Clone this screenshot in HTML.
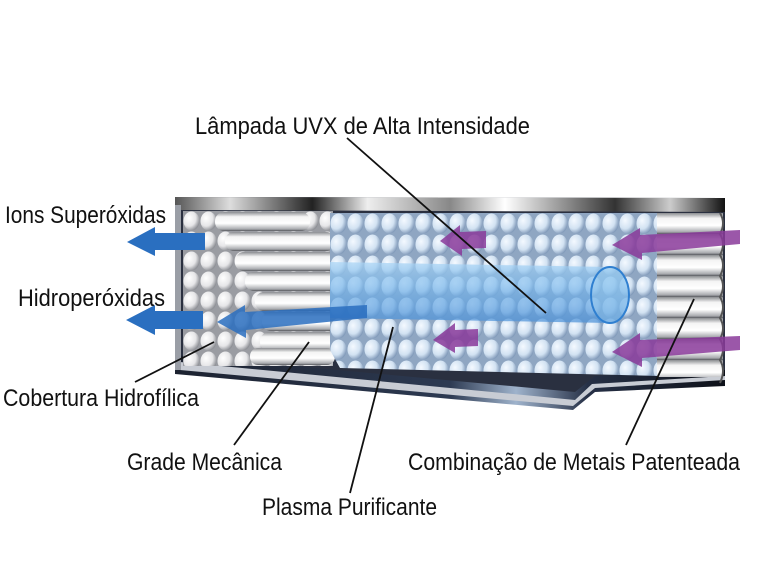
<!DOCTYPE html>
<html><head><meta charset="utf-8"><style>
html,body{margin:0;padding:0;background:#fff;}
svg{display:block;}
text{font-family:"Liberation Sans Narrow","Liberation Sans",sans-serif;fill:#111;font-size:24px;}
</style></head><body>
<svg width="768" height="571" viewBox="0 0 768 571" xmlns="http://www.w3.org/2000/svg">
<defs>
<radialGradient id="cg" cx="0.35" cy="0.35" r="0.7">
<stop offset="0" stop-color="#ffffff"/><stop offset="0.6" stop-color="#e6e6e8"/><stop offset="1" stop-color="#8a8c92"/></radialGradient>
<radialGradient id="bg" cx="0.35" cy="0.35" r="0.7">
<stop offset="0" stop-color="#f4f9ff"/><stop offset="0.6" stop-color="#d2e2f2"/><stop offset="1" stop-color="#7f98b8"/></radialGradient>
<pattern id="pl" x="183" y="211" width="17" height="20" patternUnits="userSpaceOnUse">
<rect width="17" height="20" fill="#9a9ca2"/><ellipse cx="8.5" cy="10" rx="8" ry="9.5" fill="url(#cg)"/></pattern>
<pattern id="pm" x="330" y="213" width="17" height="21" patternUnits="userSpaceOnUse">
<rect width="17" height="21" fill="#8fa6c2"/><ellipse cx="8.5" cy="10.5" rx="8" ry="10" fill="url(#bg)"/></pattern>
<linearGradient id="bar" x1="0" y1="0" x2="0" y2="1">
<stop offset="0" stop-color="#8a8c90"/><stop offset="0.25" stop-color="#f4f4f4"/><stop offset="0.6" stop-color="#ffffff"/><stop offset="0.9" stop-color="#a8aaae"/><stop offset="1" stop-color="#55575c"/></linearGradient>
<pattern id="pr" x="0" y="213" width="70" height="21" patternUnits="userSpaceOnUse">
<rect width="70" height="21" fill="url(#bar)"/></pattern>
<linearGradient id="top" x1="0" y1="0" x2="1" y2="0">
<stop offset="0" stop-color="#555"/><stop offset="0.1" stop-color="#ddd"/><stop offset="0.25" stop-color="#222"/><stop offset="0.35" stop-color="#eee"/><stop offset="0.5" stop-color="#888"/><stop offset="0.6" stop-color="#fff"/><stop offset="0.8" stop-color="#333"/><stop offset="0.9" stop-color="#ccc"/><stop offset="1" stop-color="#111"/></linearGradient>
<linearGradient id="bot" x1="0" y1="0" x2="1" y2="0">
<stop offset="0" stop-color="#1c2230"/><stop offset="0.5" stop-color="#2d3a52"/><stop offset="0.62" stop-color="#9fb3cc"/><stop offset="0.75" stop-color="#263046"/><stop offset="1" stop-color="#0e1119"/></linearGradient>
<linearGradient id="tube" x1="0" y1="0" x2="0" y2="1">
<stop offset="0" stop-color="#a8d4f5" stop-opacity="0.7"/><stop offset="0.4" stop-color="#7ab8ec" stop-opacity="0.65"/><stop offset="1" stop-color="#4a90d8" stop-opacity="0.7"/></linearGradient>
</defs>

<!-- housing -->
<polygon points="175,197 725,198 725,382 595,388 573,408 175,372" fill="#2a3040"/>
<polygon points="175,197 725,198 725,212 175,210" fill="url(#top)"/>
<polygon points="175,355 575,392 595,376 725,370 725,386 595,392 573,410 175,374" fill="url(#bot)"/>
<polygon points="180,362 575,400 592,384 725,376 725,380 595,388 573,406 180,370" fill="#c8ccd4"/>
<rect x="175" y="205" width="6" height="165" fill="#9a9ea6"/>

<!-- left block -->
<rect x="183" y="211" width="150" height="155" fill="url(#pl)"/>
<g fill="url(#bar)">
<rect x="215" y="212" width="95" height="19" rx="9"/>
<rect x="225" y="232" width="110" height="19" rx="9"/>
<rect x="235" y="252" width="105" height="19" rx="9"/>
<rect x="245" y="272" width="100" height="19" rx="9"/>
<rect x="255" y="292" width="95" height="19" rx="9"/>
<rect x="262" y="312" width="90" height="19" rx="9"/>
<rect x="260" y="332" width="95" height="19" rx="9"/>
<rect x="250" y="348" width="85" height="17" rx="8"/>
</g>

<!-- middle block -->
<polygon points="330,213 659,213 659,376 340,368 330,350" fill="url(#pm)"/>

<!-- tube -->
<path d="M330,262 L610,267 A19,28 0 0 1 610,323 L330,318 Z" fill="url(#tube)"/>
<ellipse cx="610" cy="295" rx="19" ry="28" fill="#9ccdf2" fill-opacity="0.35" stroke="#2f7fd0" stroke-width="2"/>

<!-- right block -->
<rect x="657" y="213" width="66" height="164" fill="url(#pr)"/>
<path d="M720,213 q6,10 0,21 q6,10 0,21 q6,10 0,21 q6,10 0,21 q6,10 0,21 q6,10 0,21 q6,10 0,21 q6,10 0,23" fill="none" stroke="#555" stroke-width="2"/>

<!-- blue arrows -->
<g fill="#2a6fc0">
<polygon points="205,233 155,233 155,227 127,242 155,256 155,250 205,250"/>
<polygon points="203,311 155,311 155,305 126,320 155,335 155,329 203,329"/>
<polygon points="367,305 245,312 245,305 217,322 246,338 246,330 367,318" fill-opacity="0.85"/>
</g>
<!-- purple arrows -->
<g fill="#8a3a9a" fill-opacity="0.85">
<polygon points="486,231 460,232 460,225 440,241 462,256 462,249 486,248"/>
<polygon points="740,230 640,235 640,228 612,245 642,260 642,253 740,244"/>
<polygon points="478,329 455,330 455,323 433,340 455,353 455,347 478,346"/>
<polygon points="740,336 640,340 640,333 612,352 642,367 642,358 740,350"/>
</g>

<!-- leader lines -->
<g stroke="#111" stroke-width="1.8" fill="none">
<line x1="347" y1="138" x2="546" y2="313"/>
<line x1="135" y1="382" x2="214" y2="342"/>
<line x1="234" y1="445" x2="309" y2="342"/>
<line x1="350" y1="493" x2="393" y2="327"/>
<line x1="626" y1="445" x2="694" y2="299"/>
</g>

<!-- labels -->
<text x="195" y="134" textLength="335" lengthAdjust="spacingAndGlyphs">Lâmpada UVX de Alta Intensidade</text>
<text x="5" y="223" textLength="161" lengthAdjust="spacingAndGlyphs">Ions Superóxidas</text>
<text x="18" y="306" textLength="147" lengthAdjust="spacingAndGlyphs">Hidroperóxidas</text>
<text x="3" y="406" textLength="196" lengthAdjust="spacingAndGlyphs">Cobertura Hidrofílica</text>
<text x="127" y="470" textLength="155" lengthAdjust="spacingAndGlyphs">Grade Mecânica</text>
<text x="262" y="515" textLength="175" lengthAdjust="spacingAndGlyphs">Plasma Purificante</text>
<text x="408" y="470" textLength="332" lengthAdjust="spacingAndGlyphs">Combinação de Metais Patenteada</text>
</svg>
</body></html>
